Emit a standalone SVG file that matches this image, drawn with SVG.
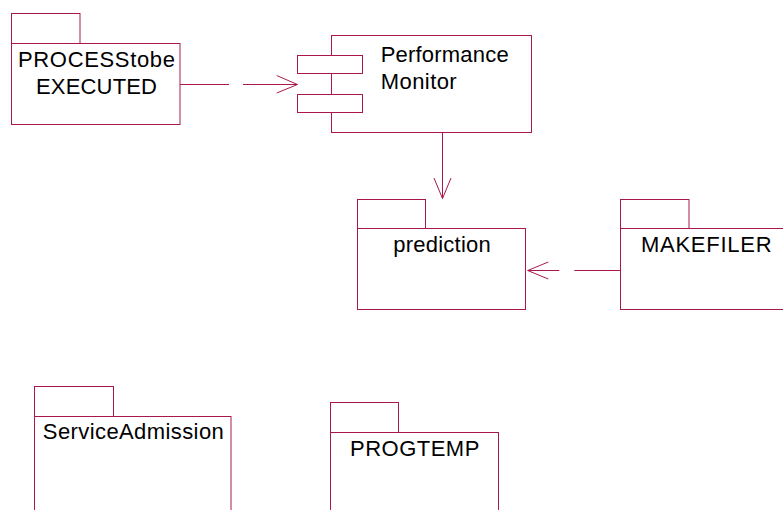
<svg xmlns="http://www.w3.org/2000/svg" width="783" height="510" viewBox="0 0 783 510">
<style>
.s{fill:#fff;stroke:#a8184e;stroke-width:1}
.l{fill:none;stroke:#a8184e;stroke-width:1}
.t{font-family:"Liberation Sans",Arial,sans-serif;font-size:22px;fill:#000}
.c{text-anchor:middle}
</style>
<rect width="783" height="510" fill="#fff"/>
<g id="processtobe">
<rect class="s" x="11.5" y="13.5" width="68.5" height="30"/>
<rect class="s" x="11.5" y="43.5" width="168.5" height="81"/>
<text class="t c" x="96.5" y="67.3" textLength="157" lengthAdjust="spacing">PROCESStobe</text>
<text class="t c" x="96.5" y="93.8" textLength="121" lengthAdjust="spacing">EXECUTED</text>
</g>
<g id="performance-monitor">
<rect class="s" x="331.5" y="35.5" width="200" height="97"/>
<rect class="s" x="297.5" y="55.5" width="65" height="18"/>
<rect class="s" x="297.5" y="94.5" width="65" height="18"/>
<text class="t" x="380.7" y="61.7" textLength="128" lengthAdjust="spacing">Performance</text>
<text class="t" x="380.7" y="89.3" textLength="76" lengthAdjust="spacing">Monitor</text>
</g>
<g id="prediction">
<rect class="s" x="357.5" y="199.5" width="68" height="29"/>
<rect class="s" x="357.5" y="228.5" width="168" height="81"/>
<text class="t c" x="442" y="251.7" textLength="97.7" lengthAdjust="spacing">prediction</text>
</g>
<g id="makefiler">
<rect class="s" x="620.5" y="199.5" width="68.5" height="29"/>
<rect class="s" x="620.5" y="228.5" width="172" height="81"/>
<text class="t c" x="706.3" y="251.7" textLength="130.7" lengthAdjust="spacing">MAKEFILER</text>
</g>
<g id="serviceadmission">
<rect class="s" x="34.5" y="386.5" width="79" height="30"/>
<rect class="s" x="34.5" y="416.5" width="196.5" height="110"/>
<text class="t c" x="133.3" y="439.3" textLength="181" lengthAdjust="spacing">ServiceAdmission</text>
</g>
<g id="progtemp">
<rect class="s" x="330.5" y="402.5" width="68" height="30"/>
<rect class="s" x="330.5" y="432.5" width="168" height="90"/>
<text class="t c" x="414.7" y="456" textLength="129.3" lengthAdjust="spacing">PROGTEMP</text>
</g>
<g id="connectors">
<path class="l" d="M180 84.5H229M243 84.5H297.5M276.7 75.5L297.5 84.5L276.7 93"/>
<path class="l" d="M442.5 132.5V198.5M434 178L442.5 198.5L451 178"/>
<path class="l" d="M620.5 270.5H574.3M559.3 270.5H527.7M548.3 262L527.7 270.5L548.3 279"/>
</g>
</svg>
